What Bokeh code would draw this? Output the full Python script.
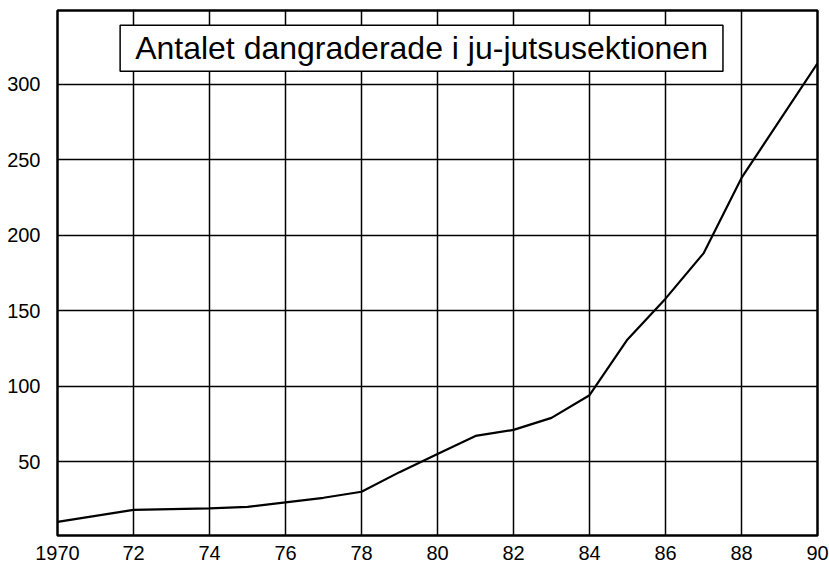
from bokeh.plotting import figure
from bokeh.models import Label, FixedTicker, Range1d
from bokeh.embed import file_html
from bokeh.resources import INLINE

years = [1970, 1972, 1974, 1975, 1976, 1977, 1978, 1979, 1980, 1981, 1982, 1983,
         1984, 1985, 1986, 1987, 1988, 1989, 1990]
values = [10, 18, 19, 20, 23, 26, 30, 43, 55, 67, 71, 79,
          94, 131, 158, 188, 238, 276, 314]
x_ticks = [1970, 1972, 1974, 1976, 1978, 1980, 1982, 1984, 1986, 1988, 1990]
x_labels = ["1970", "72", "74", "76", "78", "80", "82", "84", "86", "88", "90"]
y_ticks = [50, 100, 150, 200, 250, 300]
title_text = "Antalet dangraderade i ju-jutsusektionen"

FONT = "Liberation Sans"

p = figure(width=829, height=562, output_backend="svg", toolbar_location=None,
           x_range=Range1d(1970, 1990), y_range=Range1d(1, 349),
           min_border_left=57, min_border_right=12, min_border_top=10,
           min_border_bottom=26)
p.background_fill_color = "white"
p.border_fill_color = "white"
p.outline_line_color = "black"
p.outline_line_width = 2.5

p.line(years, values, line_color="black", line_width=2.2)

for ax in (p.xaxis[0], p.yaxis[0]):
    ax.axis_line_color = None
    ax.major_tick_line_color = None
    ax.minor_tick_line_color = None
    ax.major_label_text_font = FONT
    ax.major_label_text_font_size = "20px"
    ax.major_label_text_color = "black"

p.xaxis[0].ticker = FixedTicker(ticks=x_ticks)
p.xaxis[0].major_label_overrides = {t: l for t, l in zip(x_ticks, x_labels)}
p.xaxis[0].major_label_standoff = 4
p.yaxis[0].ticker = FixedTicker(ticks=y_ticks)
p.yaxis[0].major_label_standoff = 11

p.xgrid[0].ticker = FixedTicker(ticks=x_ticks[1:-1])
p.ygrid[0].ticker = FixedTicker(ticks=y_ticks)
for g in (p.xgrid[0], p.ygrid[0]):
    g.grid_line_color = "black"
    g.grid_line_width = 1.5
    g.grid_line_alpha = 1.0

title = Label(x=1979.58, y=324, text=title_text, text_align="center",
              text_baseline="middle", text_font=FONT, text_font_size="32px",
              text_color="black", background_fill_color="white",
              border_line_color="black", border_line_width=1.5, padding=(15, 5))
p.add_layout(title)

open("out.html", "w").write(file_html(p, INLINE))
